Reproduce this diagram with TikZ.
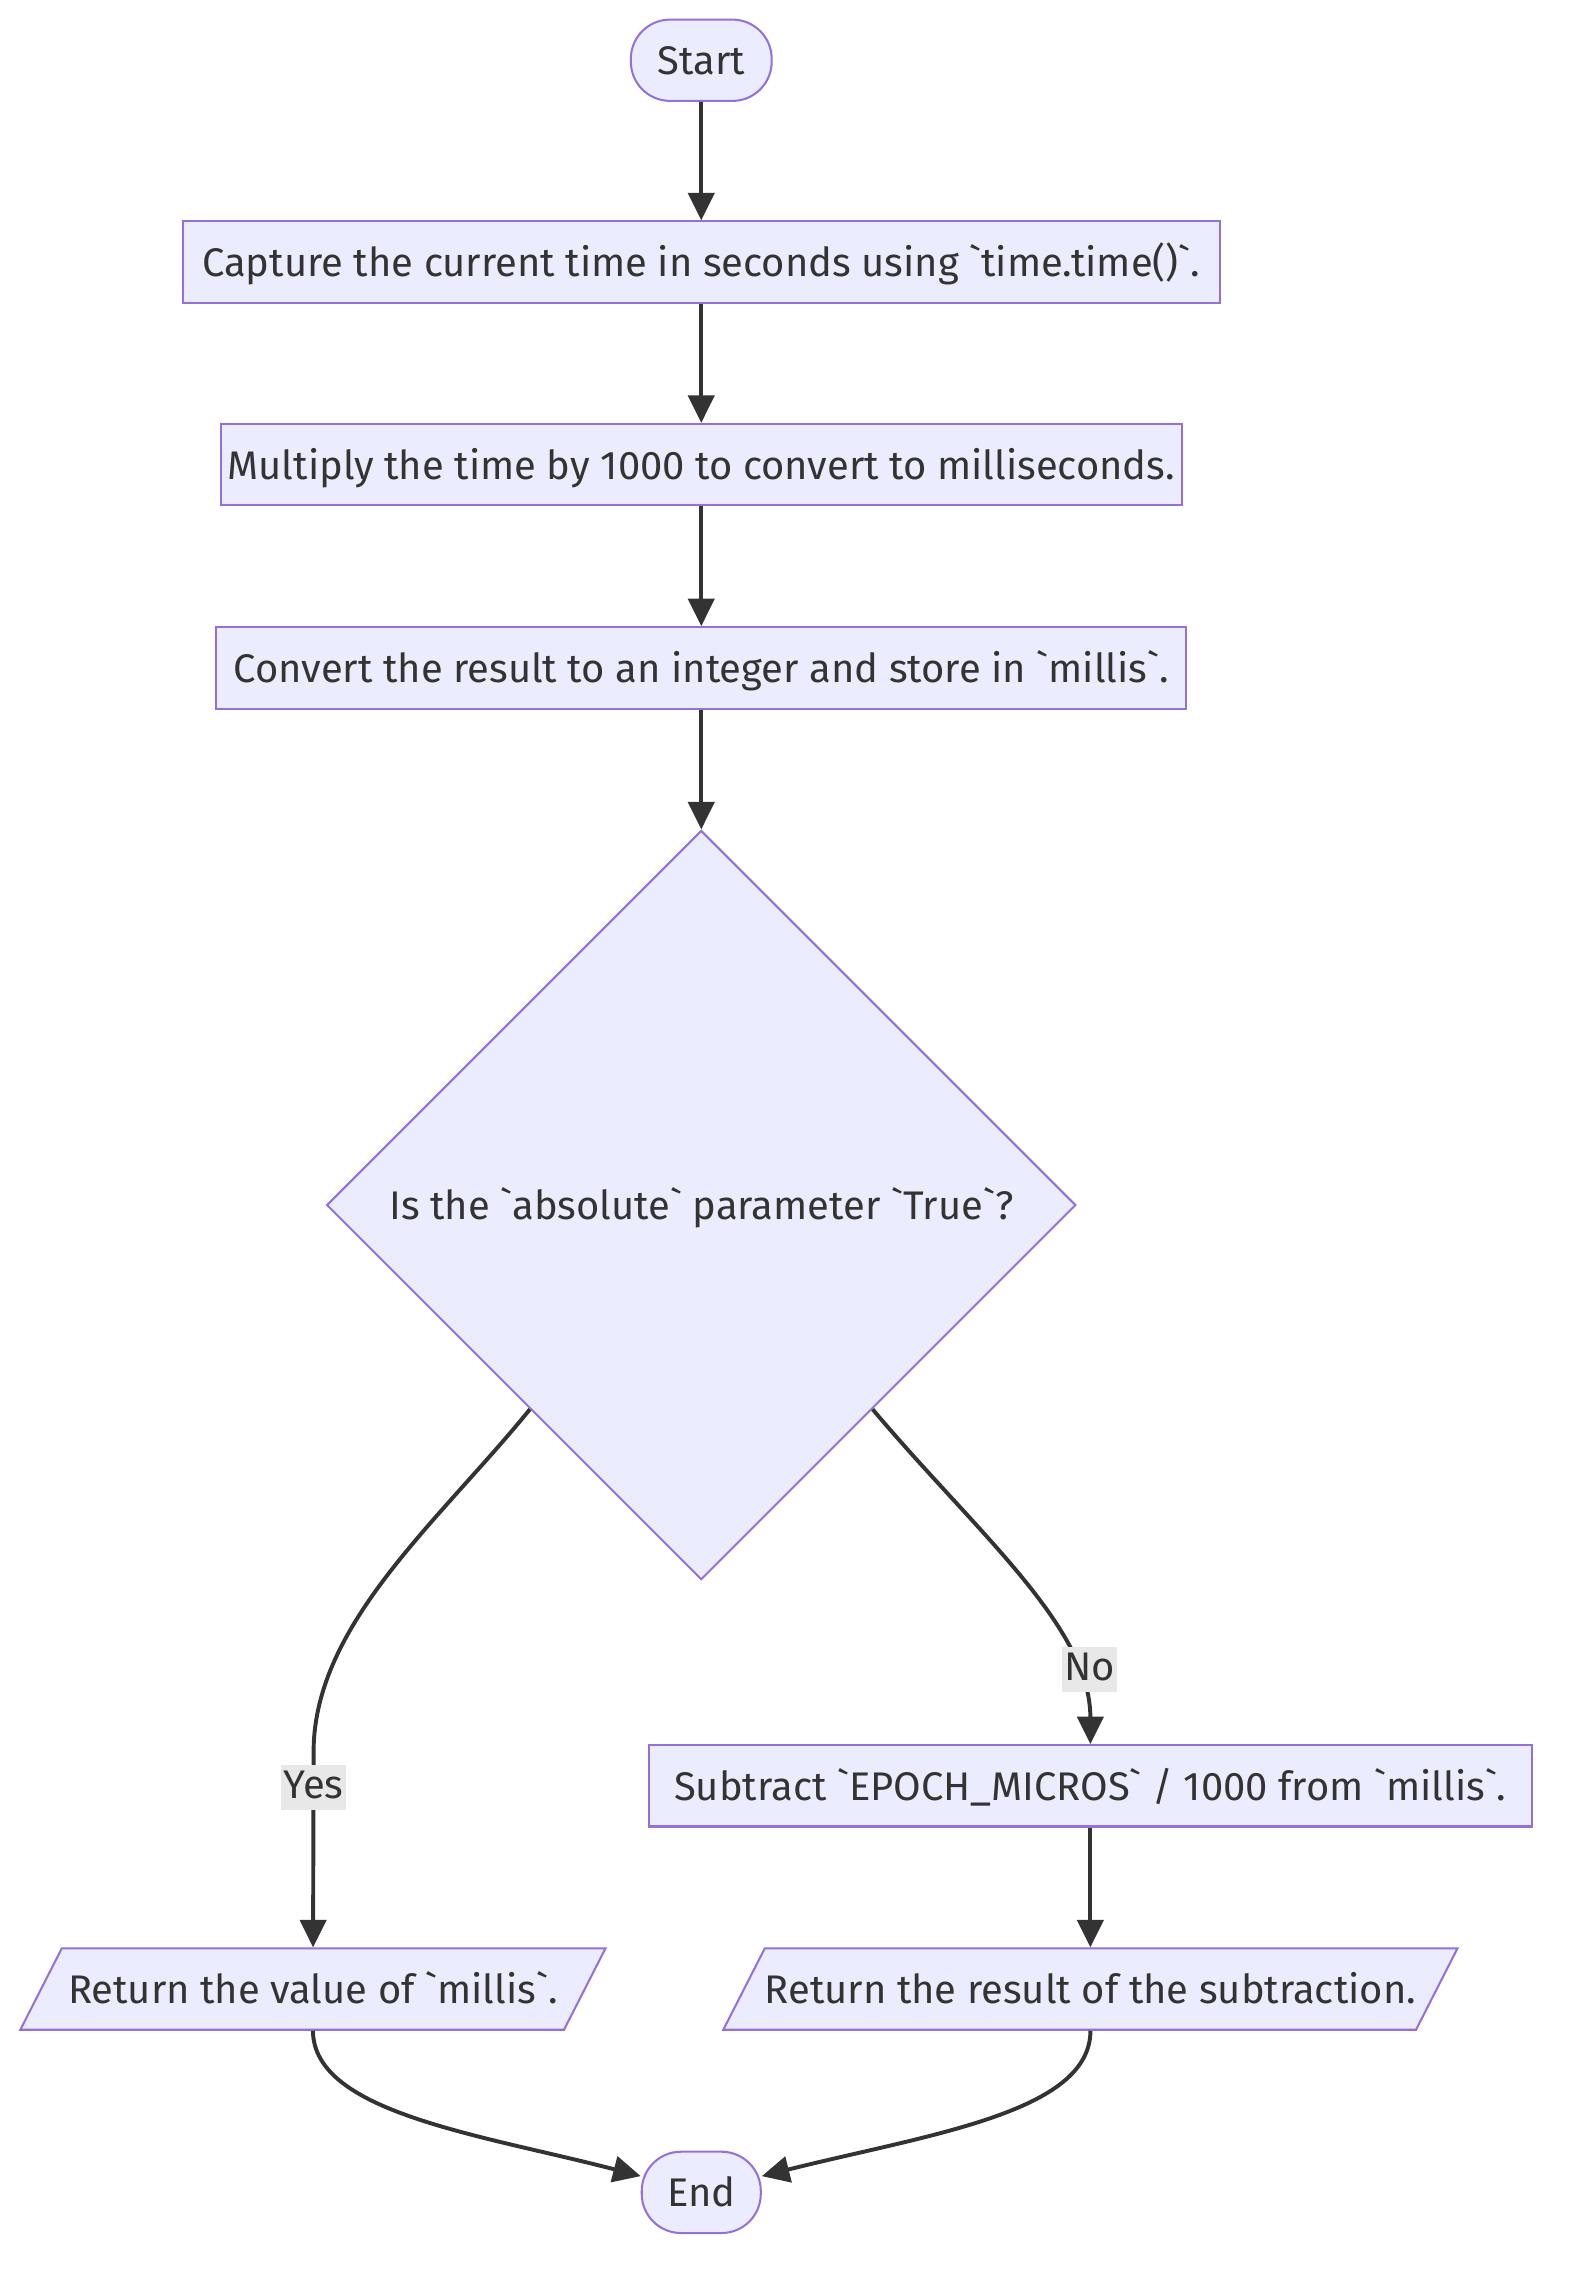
\documentclass[tikz,border=0pt]{standalone}
\usepackage{fontspec}
\setmainfont{Fira Sans}
\usetikzlibrary{shapes.geometric,arrows.meta}
\definecolor{nodefill}{HTML}{ECECFF}
\definecolor{nodeline}{HTML}{9370DB}
\definecolor{edgeline}{HTML}{333333}
\definecolor{lblfill}{HTML}{E8E8E8}
\newcommand{\bqt}{\textasciigrave}

\begin{document}
\begin{tikzpicture}[x=1pt,y=-1pt]
    % Define styles
    \tikzset{
        base/.style={draw=nodeline, fill=nodefill, line width=1.4pt, text=edgeline,
            font=\fontsize{27.5}{32}\selectfont, text height=23pt, text depth=3pt,
            inner xsep=0pt, inner ysep=15pt},
        terminal/.style={base, rectangle, rounded corners=27pt, minimum height=56pt},
        process/.style={base, rectangle, minimum height=56pt},
        decision/.style={base, diamond, aspect=1, inner sep=0pt, minimum width=516pt, minimum height=516pt},
        io/.style={base, trapezium, trapezium left angle=63, trapezium right angle=117,
            trapezium stretches body},
        arrow/.style={draw=edgeline, line width=2.7pt, -{Triangle[length=19pt,width=18pt]}},
        lbl/.style={fill=lblfill, text=edgeline, font=\fontsize{27.5}{32}\selectfont,
            text height=20pt, text depth=5pt, inner xsep=1.5pt, inner ysep=3pt}
    }
    \useasboundingbox (0,0) rectangle (1080,1569);

    % Draw the main chain
    \node[terminal, minimum width=97pt, minimum height=55pt] (start) at (483,41.5) {Start};
    \node[process, minimum width=714pt] (capture) at (483,180.5) {Capture the current time in seconds using \bqt time.time()\bqt.};
    \node[process, minimum width=662pt] (multiply) at (483,320) {Multiply the time by 1000 to convert to milliseconds.};
    \node[process, minimum width=668pt] (convert) at (483,460) {Convert the result to an integer and store in \bqt millis\bqt.};
    \node[decision] (check) at (483,830) {Is the \bqt absolute\bqt{} parameter \bqt True\bqt?};

    % Draw the two branches
    \node[process, minimum width=608pt] (subtract) at (751,1230) {Subtract \bqt EPOCH\_MICROS\bqt{} / 1000 from \bqt millis\bqt.};
    \node[io, minimum width=403pt] (retmillis) at (215.5,1370) {Return the value of \bqt millis\bqt.};
    \node[io, minimum width=500pt] (retresult) at (751,1370) {Return the result of the subtraction.};
    \node[terminal, minimum width=82pt] (end) at (483,1510) {End};

    % Bend point of the Yes arrow
    \coordinate (yesbend) at (216,1205);

    % Draw straight arrows
    \foreach \a/\b in {start/capture, capture/multiply, multiply/convert, convert/check, subtract/retresult} {
        \draw[arrow] (\a) -- (\b);
    }

    % Draw decision arrows
    \draw[arrow] (check.230) .. controls (303,1047) and (217,1118) .. (yesbend)
        -- node[lbl, pos=0.19] {Yes} (retmillis);
    \draw[arrow] (check.310) .. controls (672,1055) and (751,1120) .. (subtract)
        node[lbl, pos=0.78, xshift=10pt] {No};

    % Draw arrows to the end
    \draw[arrow] (retmillis.south) .. controls (216,1455) and (330,1470) .. (end.165);
    \draw[arrow] (retresult.south) .. controls (751,1455) and (640,1470) .. (end.15);
\end{tikzpicture}
\end{document}
